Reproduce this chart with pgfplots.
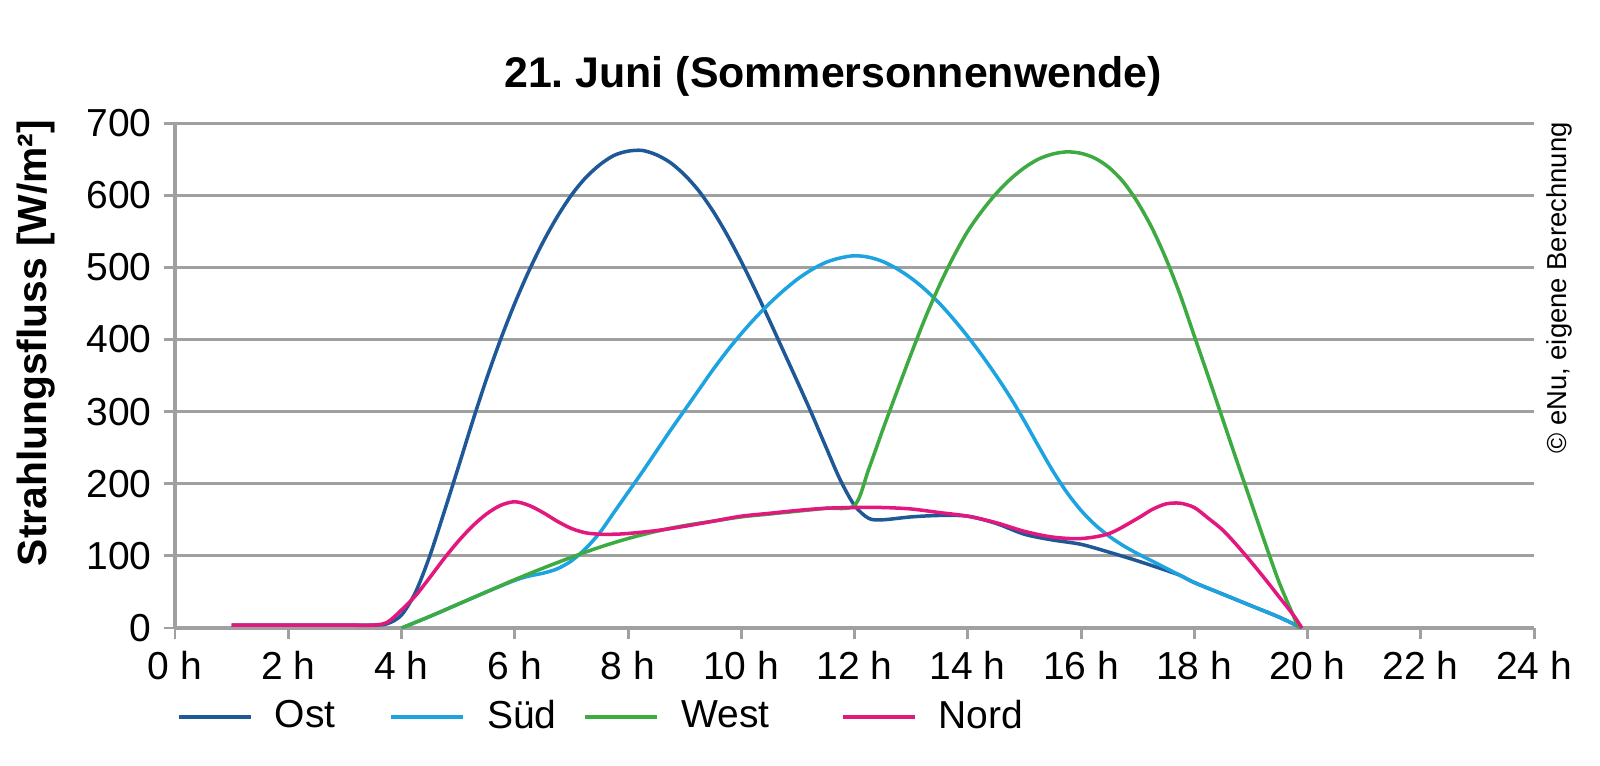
\documentclass[border=0pt]{standalone}
\usepackage{fontspec}
\setmainfont{Liberation Sans}
\usepackage{pgfplots}
\pgfplotsset{compat=1.18}

\definecolor{ost}{RGB}{30,88,150}
\definecolor{sued}{RGB}{28,163,224}
\definecolor{west}{RGB}{62,170,66}
\definecolor{nord}{RGB}{226,24,126}
\definecolor{gridgray}{RGB}{160,160,160}

\begin{document}
\frenchspacing
\begin{tikzpicture}
\path[use as bounding box] (-1.75,-1.37) rectangle (14.25,6.28);
\begin{axis}[
  scale only axis,
  width=13.59cm, height=5.05cm,
  xmin=0, xmax=24, ymin=0, ymax=700,
  axis x line=bottom, axis y line=left,
  axis line style={-, draw=gridgray, line width=0.9pt},
  xtick={0,2,...,24},
  xticklabels={0 h,2 h,4 h,6 h,8 h,10 h,12 h,14 h,16 h,18 h,20 h,22 h,24 h},
  ytick={0,100,...,700},
  ymajorgrids,
  grid style={gridgray, line width=0.85pt},
  tick align=outside,
  major tick length=0.11cm,
  tick style={gridgray, line width=0.85pt},
  ticklabel style={font=\fontsize{11.1}{13}\selectfont},
  /pgf/number format/assume math mode=true,
  every axis plot/.append style={smooth, line width=1pt, no markers},
  legend columns=4,
  legend cell align=left,
  legend style={at={(0,0)}, anchor=west, xshift=0.01cm, yshift=-0.89cm,
    draw=none, fill=none, inner sep=0pt,
    font=\fontsize{11.1}{13}\selectfont,
    /tikz/every odd column/.append style={column sep=0.15cm}},
  legend image code/.code={\draw[#1, line width=1.2pt] (0cm,0cm) -- (0.72cm,0cm);},
]

% Ost
\addplot[ost] coordinates {
(1,4)(1.5,4)(2,4)(2.5,4)(3,4)(3.5,4)(3.75,6)(4,18)(4.25,50)(4.5,100)(4.75,160)
(5,222)(5.25,285)(5.5,345)(5.75,400)(6,450)(6.25,495)(6.5,535)(6.75,570)
(7,600)(7.25,624)(7.5,642)(7.75,655)(8,661)(8.25,662)(8.5,656)(8.75,645)
(9,628)(9.25,606)(9.5,578)(9.75,545)(10,508)(10.25,468)(10.5,426)(10.75,383)
(11,340)(11.25,296)(11.5,250)(11.75,205)(12,170)(12.25,152)(12.5,150)
(13,154)(13.5,156)(14,155)(14.5,145)(15,130)(15.5,122)(16,116)(16.5,105)
(17,93)(17.5,80)(17.75,73)(18,63)(18.5,47)(19,31)(19.5,15)(19.9,0)
};
\addlegendentry{\makebox[1.07cm][l]{Ost}}

% Sued
\addplot[sued] coordinates {
(4,0)(4.5,16)(5,33)(5.5,50)(6,66)(6.25,72)(6.5,76)(6.75,82)(7,93)(7.25,110)
(7.5,132)(7.75,160)(8,188)(8.25,216)(8.5,245)(8.75,274)(9,302)(9.25,330)
(9.5,358)(9.75,384)(10,408)(10.25,430)(10.5,450)(10.75,468)(11,484)
(11.25,497)(11.5,507)(11.75,513)(12,516)(12.25,514)(12.5,508)(12.75,498)
(13,485)(13.25,469)(13.5,450)(13.75,428)(14,404)(14.25,378)(14.5,350)
(14.75,320)(15,287)(15.25,252)(15.5,218)(15.75,188)(16,163)(16.25,143)
(16.5,127)(16.75,114)(17,103)(17.25,93)(17.5,83)(17.75,73)(18,63)(18.5,47)
(19,31)(19.5,15)(19.9,0)
};
\addlegendentry{\makebox[0.89cm][l]{Süd}}

% West
\addplot[west] coordinates {
(4,0)(4.5,16)(5,33)(5.5,50)(6,67)(6.5,83)(7,98)(7.5,112)(8,124)(8.5,134)
(9,142)(9.5,148)(10,154)(10.5,158)(11,162)(11.5,166)(12,170)(12.25,220)
(12.5,275)(12.75,328)(13,380)(13.25,430)(13.5,475)(13.75,515)(14,550)
(14.25,578)(14.5,602)(14.75,622)(15,638)(15.25,650)(15.5,657)(15.75,660)
(16,658)(16.25,651)(16.5,638)(16.75,618)(17,590)(17.25,555)(17.5,512)
(17.75,462)(18,405)(18.25,348)(18.5,290)(18.75,232)(19,175)(19.25,118)
(19.5,63)(19.75,17)(19.84,0)
};
\addlegendentry{\makebox[1.52cm][l]{West}}

% Nord
\addplot[nord] coordinates {
(1,4)(1.5,4)(2,4)(2.5,4)(3,4)(3.5,4)(3.75,8)(4,25)(4.25,45)(4.5,70)(4.75,96)
(5,120)(5.25,141)(5.5,158)(5.75,170)(6,175)(6.25,170)(6.5,160)(6.75,148)
(7,138)(7.25,132)(7.5,130)(7.75,130)(8,131)(8.5,135)(9,141)(9.5,148)
(10,155)(10.5,159)(11,163)(11.5,166)(12,167)(12.5,167)(13,165)(13.5,160)
(14,155)(14.5,146)(15,134)(15.5,126)(16,124)(16.5,131)(17,152)(17.25,164)
(17.5,172)(17.75,173)(18,167)(18.25,152)(18.5,136)(18.75,115)(19,92)
(19.25,68)(19.5,43)(19.75,18)(19.9,0)
};
\addlegendentry{Nord}

\draw[gridgray, line width=0.9pt] (axis cs:0,700) -- ++(0,0.1cm);
\end{axis}

\node[font=\bfseries\fontsize{12.2}{14}\selectfont] at (6.58,5.52) {21.\ Juni (Sommersonnenwende)};
\node[rotate=90, font=\bfseries\fontsize{11.6}{14}\selectfont] at (-1.39,2.85) {Strahlungsfluss [W/m²]};
\node[rotate=90, font=\fontsize{7.8}{9}\selectfont] at (13.84,3.40) {© eNu, eigene Berechnung};
\end{tikzpicture}
\end{document}
